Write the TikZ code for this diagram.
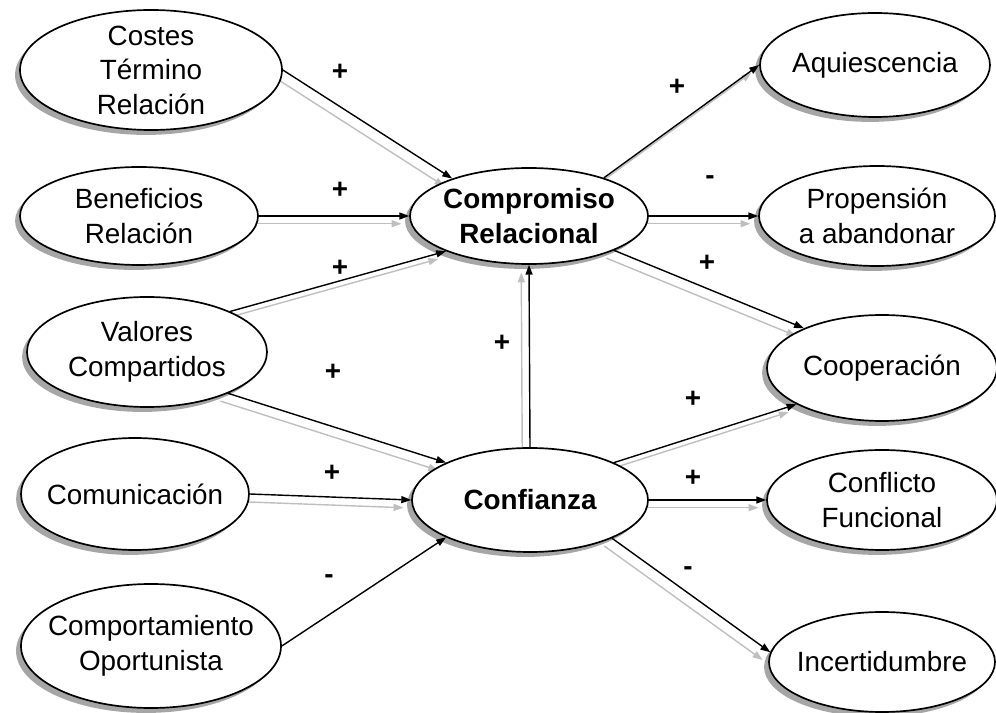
\documentclass[tikz,border=0pt]{standalone}
\usepackage{fontspec}
\setmainfont{Liberation Sans}
\usetikzlibrary{shapes.geometric,shadows,arrows.meta,backgrounds}

\tikzset{
  var/.style={ellipse, draw, line width=1.2pt, fill=white, align=center,
    inner xsep=-0.4cm, inner ysep=-0.15cm,
    minimum width=5.8cm, minimum height=2.5cm,
    font=\fontsize{19.8}{24.5}\selectfont,
    drop shadow={shadow xshift=-3.5pt, shadow yshift=-3.5pt, fill=black!35, opacity=1}},
  core/.style={var, font=\fontsize{19.8}{24.5}\selectfont\bfseries},
  link/.style={-{Triangle[length=7pt,width=5pt]}, line width=1pt},
  ghost/.style={link, black!25, transform canvas={shift={(-5.5pt,-5.5pt)}}},
  sign/.style={font=\fontsize{19.8}{24.5}\selectfont\bfseries}
}

\begin{document}
\begin{tikzpicture}
\useasboundingbox (0,0) rectangle (24.9,17.8);

\node[var, minimum width=6.55cm, minimum height=3cm] (costes) at (3.775,16.05) {Costes\\Término\\Relación};
\node[var, minimum width=5.95cm, minimum height=2.45cm] (beneficios) at (3.475,12.4) {Beneficios\\Relación};
\node[var, minimum width=6cm, minimum height=2.75cm] (valores) at (3.675,9) {Valores\\Compartidos};
\node[var, minimum width=5.7cm, minimum height=2.8cm] (comunicacion) at (3.375,5.45) {Comunicación};
\node[var, minimum width=6.5cm, minimum height=3.1cm] (comportamiento) at (3.775,1.65) {Comportamiento\\Oportunista};

\node[core, minimum width=5.95cm, minimum height=2.4cm] (compromiso) at (13.225,12.4) {Compromiso\\Relacional};
\node[core, minimum width=5.9cm, minimum height=2.6cm] (confianza) at (13.25,5.3) {Confianza};

\node[var, minimum width=5.75cm, minimum height=2.6cm] (aquiescencia) at (21.875,16.175) {Aquiescencia};
\node[var, minimum width=5.9cm] (propension) at (21.925,12.4) {Propensión\\a abandonar};
\node[var, minimum width=5.75cm, minimum height=2.65cm] (cooperacion) at (22.05,8.6) {Cooperación};
\node[var, minimum width=5.75cm] (conflicto) at (22.05,5.3) {Conflicto\\Funcional};
\node[var, minimum width=5.65cm] (incertidumbre) at (22.05,1.25) {Incertidumbre};

\begin{pgfonlayer}{background}
\foreach \a/\b in {costes.east/compromiso.154, beneficios.east/compromiso.west,
  valores.26/compromiso.203, valores.333/confianza.156, comunicacion.east/confianza.west,
  confianza.north/compromiso.south, compromiso.27/aquiescencia.west,
  compromiso.east/propension.west, compromiso.338/cooperacion.153,
  confianza.24/cooperacion.203, confianza.east/conflicto.west,
  confianza.335/incertidumbre.175}
  \draw[ghost] (\a) -- (\b);
\end{pgfonlayer}

\foreach \a/\b in {costes.east/compromiso.154, beneficios.east/compromiso.west,
  valores.26/compromiso.203, valores.333/confianza.156, comunicacion.east/confianza.west,
  comportamiento.east/confianza.204, confianza.north/compromiso.south,
  compromiso.27/aquiescencia.west, compromiso.east/propension.west,
  compromiso.338/cooperacion.153, confianza.24/cooperacion.203,
  confianza.east/conflicto.west, confianza.335/incertidumbre.175}
  \draw[link] (\a) -- (\b);

\node[sign] (s1) at (8.5,16) {+};
\node[sign] (s2) at (8.5,13.05) {+};
\node[sign] (s3) at (8.5,11.1) {+};
\node[sign] (s4) at (8.325,8.5) {+};
\node[sign] (s5) at (8.3,5.975) {+};
\node[sign] (s6) at (8.225,3.325) {-};
\node[sign] (s7) at (12.55,9.225) {+};
\node[sign] (s8) at (16.925,15.625) {+};
\node[sign] (s9) at (17.75,13.3) {-};
\node[sign] (s10) at (17.675,11.225) {+};
\node[sign] (s11) at (17.325,7.825) {+};
\node[sign] (s12) at (17.325,5.85) {+};
\node[sign] (s13) at (17.2,3.525) {-};
\end{tikzpicture}
\end{document}
